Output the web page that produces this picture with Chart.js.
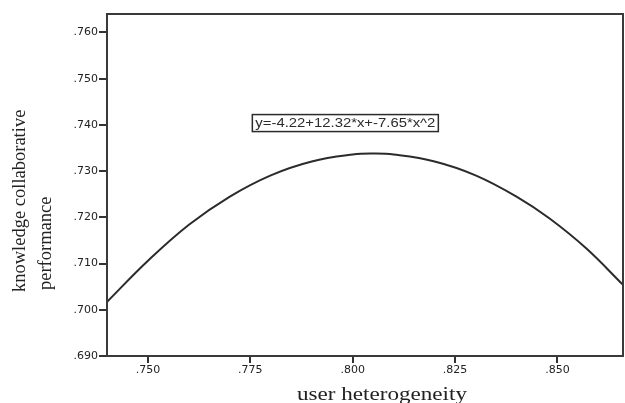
<!DOCTYPE html>
<html>
<head>
<meta charset="utf-8">
<script src="https://cdn.jsdelivr.net/npm/chart.js@4/dist/chart.umd.min.js"></script>
<style>
  html, body { margin: 0; padding: 0; background: #fff; }
</style>
</head>
<body>
<canvas id="chart" width="625" height="403"></canvas>
<script>
// values
const heterogeneity = [0.740, 0.750, 0.760, 0.770, 0.780, 0.790, 0.800, 0.805, 0.810, 0.820, 0.830, 0.840, 0.848, 0.857, 0.866]
const performance = [0.7017, 0.7106, 0.7184, 0.7245, 0.7291, 0.7321, 0.7336, 0.7338, 0.7336, 0.7321, 0.7291, 0.7245, 0.7198, 0.7133, 0.7054]

const xTicks = [0.750, 0.775, 0.800, 0.825, 0.850]
const yTicks = [0.690, 0.700, 0.710, 0.720, 0.730, 0.740, 0.750, 0.760]

const equation = 'y=-4.22+12.32*x+-7.65*x^2'
const xTitle = 'user heterogeneity'
const yTitle = ['knowledge collaborative', 'performance']

const ink = '#2b2b2b'

function fmt(v) {
  return v.toFixed(3).replace(/^0/, '')
}

// text squeezed/stretched to a given width, like the scanned figure
function stretchText(ctx, text, cx, cy, w) {
  const m = ctx.measureText(text).width
  ctx.save()
  ctx.translate(cx, cy)
  ctx.scale(w / m, 1)
  ctx.textAlign = 'center'
  ctx.fillText(text, 0, 0)
  ctx.restore()
}

const extras = {
  id: 'extras',
  afterDraw(chart) {
    const { ctx, chartArea: a, scales: { x, y } } = chart
    ctx.save()

    // frame round the plot
    ctx.strokeStyle = '#3a3a3a'
    ctx.lineWidth = 2
    ctx.strokeRect(a.left, a.top, a.right - a.left, a.bottom - a.top)

    // equation label
    const cx = x.getPixelForValue(0.7982)
    const cy = y.getPixelForValue(0.7404)
    ctx.lineWidth = 1.5
    ctx.strokeStyle = ink
    ctx.strokeRect(cx - 93, cy - 8.5, 186, 17)
    ctx.fillStyle = ink
    ctx.font = '12px "Liberation Sans"'
    ctx.textBaseline = 'middle'
    stretchText(ctx, equation, cx, cy + 0.5, 180)

    // x title
    ctx.font = '19px "Liberation Serif"'
    ctx.textBaseline = 'alphabetic'
    ctx.fillStyle = '#222'
    stretchText(ctx, xTitle, 382, 400, 170)

    // y title, two lines reading upwards
    ctx.font = '18.5px "Liberation Serif"'
    ctx.textBaseline = 'middle'
    ctx.textAlign = 'left'
    const starts = [292, 290]
    const cols = [20, 46]
    yTitle.forEach((line, i) => {
      ctx.save()
      ctx.translate(cols[i], starts[i])
      ctx.rotate(-Math.PI / 2)
      ctx.fillText(line, 0, 0)
      ctx.restore()
    })

    ctx.restore()
  }
}

new Chart(document.getElementById('chart'), {
  type: 'scatter',
  data: {
    datasets: [{
      data: heterogeneity.map((h, i) => ({ x: h, y: performance[i] })),
      showLine: true,
      borderColor: ink,
      borderWidth: 2,
      pointRadius: 0,
      tension: 0.4
    }]
  },
  options: {
    responsive: false,
    animation: false,
    layout: { padding: { top: 14, right: 2, left: 0, bottom: 0 } },
    plugins: { legend: { display: false }, tooltip: { enabled: false } },
    scales: {
      x: {
        type: 'linear',
        min: 0.740,
        max: 0.866,
        afterBuildTicks: s => { s.ticks = xTicks.map(v => ({ value: v })) },
        afterFit: s => { s.height = 47 },
        ticks: {
          callback: v => fmt(v),
          color: '#222',
          padding: 1,
          maxRotation: 0,
          font: { family: 'DejaVu Sans', size: 11 }
        },
        grid: { drawOnChartArea: false, drawTicks: true, tickLength: 7, color: '#333', lineWidth: 2 },
        border: { display: false }
      },
      y: {
        min: 0.690,
        max: 0.764,
        afterBuildTicks: s => { s.ticks = yTicks.map(v => ({ value: v })) },
        afterFit: s => { s.width = 107 },
        ticks: {
          callback: v => fmt(v),
          color: '#222',
          padding: 1,
          font: { family: 'DejaVu Sans', size: 11 }
        },
        grid: { drawOnChartArea: false, drawTicks: true, tickLength: 8, color: '#333', lineWidth: 2 },
        border: { display: false }
      }
    }
  },
  plugins: [extras]
})
</script>
</body>
</html>
